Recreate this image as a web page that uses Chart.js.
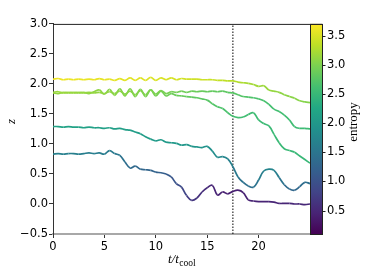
<!DOCTYPE html>
<html>
<head>
<meta charset="utf-8">
<script src="https://cdn.jsdelivr.net/npm/chart.js@4/dist/chart.umd.min.js"></script>
<style>
  html, body { margin: 0; padding: 0; background: #fff; }
</style>
</head>
<body>
<canvas id="myChart" width="365" height="272"></canvas>
<script>
// time samples, t / t_cool
const times = [0,
  0.5, 1, 1.5, 2, 2.5, 3, 3.5, 4, 4.5, 5,
  5.5, 6, 6.5, 7, 7.5, 8, 8.5, 9, 9.5, 10,
  10.5, 11, 11.5, 12, 12.5, 13, 13.5, 14, 14.5, 15,
  15.5, 16, 16.5, 17, 17.5, 18, 18.5, 19, 19.5, 20,
  20.5, 21, 21.5, 22, 22.5, 23, 23.5, 24, 24.5, 25];

// height z of each tracer
const zA = [2.08,
  2.09, 2.07, 2.08, 2.07, 2.08, 2.07, 2.08, 2.07, 2.09, 2.07,
  2.08, 2.06, 2.09, 2.06, 2.10, 2.06, 2.10, 2.06, 2.11, 2.06,
  2.10, 2.07, 2.10, 2.07, 2.09, 2.08, 2.08, 2.08, 2.07, 2.07,
  2.07, 2.06, 2.06, 2.05, 2.05, 2.03, 2.02, 2.01, 1.99, 1.96,
  1.97, 1.90, 1.88, 1.86, 1.82, 1.79, 1.76, 1.72, 1.70, 1.69];
const zB = [1.86,
  1.87, 1.85, 1.86, 1.85, 1.86, 1.85, 1.86, 1.85, 1.86, 1.84,
  1.87, 1.84, 1.88, 1.83, 1.88, 1.82, 1.89, 1.82, 1.90, 1.83,
  1.89, 1.84, 1.87, 1.86, 1.88, 1.86, 1.88, 1.87, 1.88, 1.87,
  1.88, 1.87, 1.88, 1.86, 1.85, 1.82, 1.79, 1.78, 1.77, 1.75,
  1.72, 1.66, 1.58, 1.54, 1.48, 1.40, 1.29, 1.26, 1.26, 1.25];
const zC = [1.85,
  1.84, 1.86, 1.85, 1.86, 1.85, 1.86, 1.84, 1.87, 1.90, 1.83,
  1.91, 1.81, 1.92, 1.80, 1.92, 1.79, 1.91, 1.79, 1.90, 1.80,
  1.88, 1.80, 1.84, 1.81, 1.80, 1.79, 1.78, 1.77, 1.75, 1.73,
  1.67, 1.62, 1.59, 1.52, 1.46, 1.44, 1.45, 1.49, 1.52, 1.40,
  1.34, 1.30, 1.16, 1.02, 0.92, 0.89, 0.86, 0.80, 0.74, 0.68];
const zD = [1.29,
  1.29, 1.28, 1.29, 1.28, 1.28, 1.27, 1.28, 1.27, 1.27, 1.26,
  1.27, 1.25, 1.26, 1.24, 1.23, 1.20, 1.17, 1.12, 1.08, 1.05,
  1.07, 1.03, 1.02, 1.01, 0.98, 0.99, 0.96, 0.95, 0.94, 0.96,
  0.88, 0.78, 0.79, 0.75, 0.62, 0.45, 0.36, 0.30, 0.28, 0.40,
  0.55, 0.58, 0.56, 0.44, 0.32, 0.25, 0.23, 0.29, 0.36, 0.34];
const zE = [0.83,
  0.84, 0.83, 0.84, 0.84, 0.83, 0.84, 0.85, 0.84, 0.85, 0.83,
  0.89, 0.84, 0.81, 0.70, 0.60, 0.63, 0.58, 0.57, 0.56, 0.53,
  0.52, 0.50, 0.45, 0.34, 0.28, 0.14, 0.06, 0.10, 0.20, 0.27,
  0.31, 0.15, 0.20, 0.17, 0.21, 0.23, 0.19, 0.07, 0.05, 0.04,
  0.04, 0.04, 0.03, 0.01, 0.01, 0.01, 0.00, 0.00, -0.01, 0.00];

// entropy along each tracer (sets the colour)
const eA = [3.62,
  3.62, 3.61, 3.61, 3.60, 3.60, 3.59, 3.59, 3.58, 3.58, 3.57,
  3.57, 3.56, 3.56, 3.55, 3.54, 3.54, 3.53, 3.52, 3.51, 3.50,
  3.50, 3.49, 3.48, 3.47, 3.46, 3.45, 3.44, 3.44, 3.43, 3.42,
  3.40, 3.38, 3.36, 3.34, 3.31, 3.28, 3.25, 3.22, 3.20, 3.18,
  3.16, 3.14, 3.12, 3.10, 3.08, 3.07, 3.06, 3.05, 3.04, 3.03];
const eB = [3.15,
  3.15, 3.15, 3.14, 3.14, 3.13, 3.13, 3.12, 3.12, 3.11, 3.10,
  3.09, 3.08, 3.07, 3.06, 3.05, 3.04, 3.03, 3.01, 3.00, 2.99,
  2.98, 2.96, 2.95, 2.93, 2.92, 2.90, 2.89, 2.87, 2.86, 2.84,
  2.83, 2.81, 2.80, 2.78, 2.76, 2.74, 2.72, 2.70, 2.68, 2.66,
  2.65, 2.63, 2.62, 2.60, 2.59, 2.58, 2.57, 2.56, 2.55, 2.55];
const eC = [3.12,
  3.12, 3.12, 3.11, 3.11, 3.10, 3.10, 3.09, 3.09, 3.08, 3.07,
  3.06, 3.05, 3.04, 3.03, 3.02, 3.01, 3.00, 2.98, 2.97, 2.96,
  2.94, 2.92, 2.90, 2.88, 2.86, 2.84, 2.82, 2.80, 2.78, 2.76,
  2.73, 2.70, 2.68, 2.65, 2.62, 2.60, 2.59, 2.58, 2.57, 2.55,
  2.54, 2.53, 2.52, 2.52, 2.51, 2.51, 2.50, 2.50, 2.50, 2.50];
const eD = [2.18,
  2.18, 2.17, 2.17, 2.16, 2.16, 2.15, 2.15, 2.14, 2.14, 2.13,
  2.13, 2.12, 2.12, 2.11, 2.10, 2.09, 2.08, 2.07, 2.06, 2.05,
  2.04, 2.03, 2.02, 2.01, 2.00, 1.99, 1.98, 1.96, 1.94, 1.92,
  1.88, 1.80, 1.75, 1.70, 1.60, 1.50, 1.45, 1.40, 1.40, 1.55,
  1.70, 1.75, 1.70, 1.55, 1.40, 1.30, 1.28, 1.35, 1.42, 1.42];
const eE = [1.65,
  1.65, 1.65, 1.64, 1.64, 1.63, 1.63, 1.62, 1.62, 1.61, 1.60,
  1.58, 1.55, 1.50, 1.42, 1.35, 1.33, 1.30, 1.28, 1.26, 1.24,
  1.20, 1.15, 1.08, 1.00, 0.90, 0.78, 0.68, 0.62, 0.58, 0.52,
  0.48, 0.45, 0.43, 0.42, 0.42, 0.42, 0.43, 0.44, 0.45, 0.46,
  0.46, 0.47, 0.47, 0.48, 0.48, 0.49, 0.49, 0.50, 0.50, 0.50];

const xTicks = [0, 5, 10, 15, 20];
const cbTicks = [0.5, 1.0, 1.5, 2.0, 2.5, 3.0, 3.5];
const tMark = 17.5;
const eMin = 0.1, eMax = 3.7;

// viridis
const VIR = ["#440154", "#482475", "#414487", "#355f8d", "#2a788e", "#21918c",
             "#22a884", "#44bf70", "#7ad151", "#bddf26", "#fde725"];
function hex(c) { return [1, 3, 5].map(i => parseInt(c.substr(i, 2), 16)); }
function viridis(f) {
  f = Math.max(0, Math.min(1, f));
  const p = f * (VIR.length - 1), i = Math.min(Math.floor(p), VIR.length - 2), r = p - i;
  const a = hex(VIR[i]), b = hex(VIR[i + 1]);
  return "rgb(" + a.map((v, k) => Math.round(v + (b[k] - v) * r)).join(",") + ")";
}
const eColor = e => viridis((e - eMin) / (eMax - eMin));

function tracer(z, e) {
  return {
    data: times.map((t, i) => ({ x: t, y: z[i] })),
    borderWidth: 1.7,
    pointRadius: 0,
    tension: 0.4,
    borderColor: eColor(e[0]),
    segment: {
      borderColor: c => eColor((e[c.p0DataIndex] + e[c.p1DataIndex]) / 2),
    },
  };
}

const tickFont = { family: "DejaVu Sans", size: 11.5 };

const decor = {
  id: "decor",
  afterDraw(chart) {
    const ctx = chart.ctx, a = chart.chartArea, cb = chart.scales.cb;
    const x0 = a.right, x1 = a.right + 12;
    ctx.save();
    // colour bar
    const g = ctx.createLinearGradient(0, a.bottom, 0, a.top);
    VIR.forEach((c, i) => g.addColorStop(i / (VIR.length - 1), c));
    ctx.fillStyle = g;
    ctx.fillRect(x0, a.top, x1 - x0, a.bottom - a.top);
    ctx.strokeStyle = "#222";
    ctx.lineWidth = 1;
    ctx.strokeRect(x0 + 0.5, a.top + 0.5, x1 - x0, a.bottom - a.top);
    cbTicks.forEach(v => {
      const y = Math.round(cb.getPixelForValue(v)) + 0.5;
      ctx.beginPath(); ctx.moveTo(x1, y); ctx.lineTo(x1 + 3.5, y); ctx.stroke();
    });
    // top spine
    ctx.beginPath(); ctx.moveTo(a.left, a.top + 0.5); ctx.lineTo(x1, a.top + 0.5); ctx.stroke();
    // axis labels
    ctx.fillStyle = "#000";
    ctx.textBaseline = "alphabetic";
    ctx.textAlign = "left";
    const big = 'italic 13px "Liberation Serif"', sub = '9.5px "Liberation Serif"';
    ctx.font = big; const w1 = ctx.measureText("t/t").width;
    ctx.font = sub; const w2 = ctx.measureText("cool").width;
    const sx = (a.left + a.right) / 2 - (w1 + w2) / 2;
    ctx.font = big; ctx.fillText("t/t", sx, 263);
    ctx.font = sub; ctx.fillText("cool", sx + w1 + 0.5, 266);
    ctx.textAlign = "center";
    ctx.textBaseline = "middle";
    ctx.save();
    ctx.translate(11.5, 121.5); ctx.rotate(-Math.PI / 2);
    ctx.font = big; ctx.fillText("z", 0, 0);
    ctx.restore();
    ctx.save();
    ctx.translate(354, 122); ctx.rotate(-Math.PI / 2);
    ctx.font = '13px "Liberation Serif"'; ctx.fillText("entropy", 0, 0);
    ctx.restore();
    ctx.restore();
  },
};

const ctx = document.getElementById("myChart");
new Chart(ctx, {
  type: "line",
  data: {
    datasets: [
      tracer(zA, eA),
      tracer(zB, eB),
      tracer(zC, eC),
      tracer(zD, eD),
      tracer(zE, eE),
      {
        data: [{ x: tMark, y: -0.5 }, { x: tMark, y: 3.0 }],
        borderColor: "#000",
        borderWidth: 1,
        borderDash: [1.5, 1.5],
        pointRadius: 0,
      },
    ],
  },
  options: {
    responsive: false,
    animation: false,
    devicePixelRatio: 1,
    layout: { padding: { top: 10, left: 0, right: 0, bottom: 0 } },
    plugins: { legend: { display: false }, tooltip: { enabled: false } },
    scales: {
      x: {
        type: "linear",
        min: 0,
        max: 25,
        afterBuildTicks: s => { s.ticks = xTicks.map(v => ({ value: v })); },
        afterFit: s => { s.height = 38; },
        grid: { drawOnChartArea: false, tickLength: 4, color: "#333" },
        border: { color: "#a8a8a8", width: 2 },
        ticks: { font: tickFont, color: "#000", padding: 2, maxRotation: 0 },
      },
      y: {
        min: -0.5,
        max: 3.0,
        afterFit: s => { s.width = 53; },
        grid: { drawOnChartArea: false, tickLength: 4, color: "#333" },
        border: { color: "#333", width: 1 },
        ticks: {
          stepSize: 0.5,
          font: tickFont,
          color: "#000",
          padding: 1,
          callback: v => v.toFixed(1).replace("-", "\u2212"),
        },
      },
      cb: {
        type: "linear",
        position: "right",
        min: eMin,
        max: eMax,
        afterBuildTicks: s => { s.ticks = cbTicks.map(v => ({ value: v })); },
        afterFit: s => { s.width = 55; },
        grid: { display: false, drawTicks: false },
        border: { display: false },
        ticks: {
          font: tickFont,
          color: "#000",
          padding: 17,
          callback: v => v.toFixed(1),
        },
      },
    },
  },
  plugins: [decor],
});
</script>
</body>
</html>
